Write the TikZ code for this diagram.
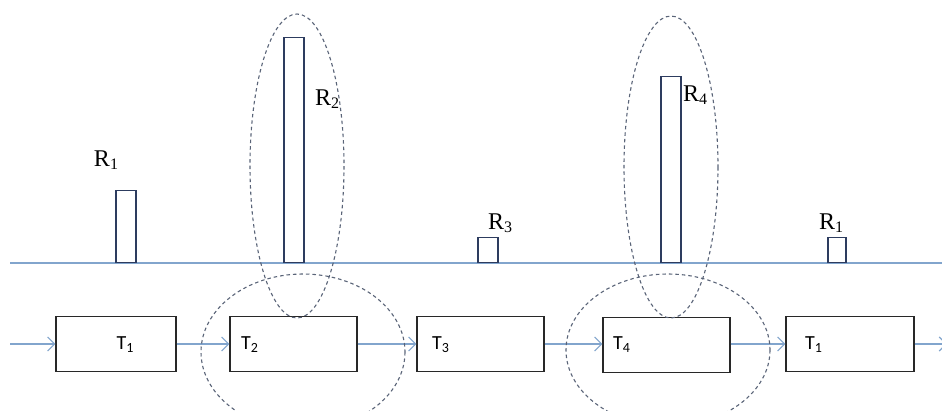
\documentclass[tikz,border=0pt]{standalone}
\usepackage{fontspec}
\setmainfont{Liberation Serif}
\newfontfamily\tfont{Carlito}
\usetikzlibrary{arrows.meta}
\definecolor{lineblue}{RGB}{130,165,205}
\definecolor{barcol}{RGB}{45,60,95}
\definecolor{boxcol}{RGB}{40,40,40}
\definecolor{dashcol}{RGB}{90,100,120}
\newcommand{\rlab}[1]{{\fontsize{24}{26}\selectfont R\raisebox{-0.25ex}{\fontsize{16}{17}\selectfont #1}}}
\newcommand{\tlab}[1]{{\tfont\fontsize{20}{22}\selectfont T\raisebox{-0.3ex}{\fontsize{14}{15}\selectfont #1}}}
\begin{document}
\begin{tikzpicture}[x=1pt,y=-1pt,
  tbox/.style={draw=boxcol,line width=1.3pt,minimum height=55pt,inner sep=0pt},
  bar/.style={draw=barcol,line width=1.1pt,fill=white,minimum width=20pt,inner sep=0pt,anchor=south},
  flow/.style={draw=lineblue,line width=1.1pt,-{Straight Barb[length=7pt,width=14pt]}},
  ring/.style={draw=dashcol,dashed,dash pattern=on 3.5pt off 3pt,line width=1.1pt},
  txt/.style={inner sep=0pt}]
\useasboundingbox (0,0) rectangle (942,410);
\clip (0,0) rectangle (942,410);
\fill[white] (0,0) rectangle (942,410);
% base line
\coordinate (bl) at (10,263);
\coordinate (br) at (942,263);
\draw[lineblue,line width=1.4pt] (bl) -- (br);
% bars
\node[bar,minimum height=72pt] (b1) at (126,263) {};
\node[bar,minimum height=225pt] (b2) at (294,263) {};
\node[bar,minimum height=25pt] (b3) at (488,263) {};
\node[bar,minimum height=186pt] (b4) at (671,263) {};
\node[bar,minimum width=18pt,minimum height=25pt] (b5) at (837,263) {};
% R labels
\node[txt] (r1) at (106,160) {\rlab{1}};
\node[txt] (r2) at (327,99) {\rlab{2}};
\node[txt] (r3) at (500,223) {\rlab{3}};
\node[txt] (r4) at (695,95) {\rlab{4}};
\node[txt] (r5) at (831,223) {\rlab{1}};
% task boxes
\node[tbox,minimum width=120pt] (t1) at (116,344) {};
\node[tbox,minimum width=127pt] (t2) at (293.5,344) {};
\node[tbox,minimum width=127pt] (t3) at (480.5,344) {};
\node[tbox,minimum width=127pt] (t4) at (666.5,345) {};
\node[tbox,minimum width=128pt] (t5) at (850,344) {};
\node[txt] (l1) at (125,345) {\tlab{1}};
\node[txt,anchor=west] (l2) at (241,345) {\tlab{2}};
\node[txt,anchor=west] (l3) at (432,345) {\tlab{3}};
\node[txt,anchor=west] (l4) at (613,345) {\tlab{4}};
\node[txt,anchor=west] (l5) at (805,345) {\tlab{1}};
% connectors
\coordinate (start) at (10,344);
\coordinate (end) at (947,344);
\draw[flow] (start) -- (t1.west);
\draw[flow] (t1.east) -- (t2.west |- t1.east);
\draw[flow] (t2.east |- t1.east) -- (t3.west |- t1.east);
\draw[flow] (t3.east |- t1.east) -- (t4.west |- t1.east);
\draw[flow] (t4.east |- t1.east) -- (t5.west);
\draw[flow] (t5.east) -- (end);
% dashed groupings
\draw[ring] (297,166) ellipse [x radius=47, y radius=152];
\draw[ring] (671,167) ellipse [x radius=47, y radius=151];
\draw[ring] (303,352) ellipse [x radius=102, y radius=78];
\draw[ring] (668,350) ellipse [x radius=102, y radius=76];
\end{tikzpicture}
\end{document}
